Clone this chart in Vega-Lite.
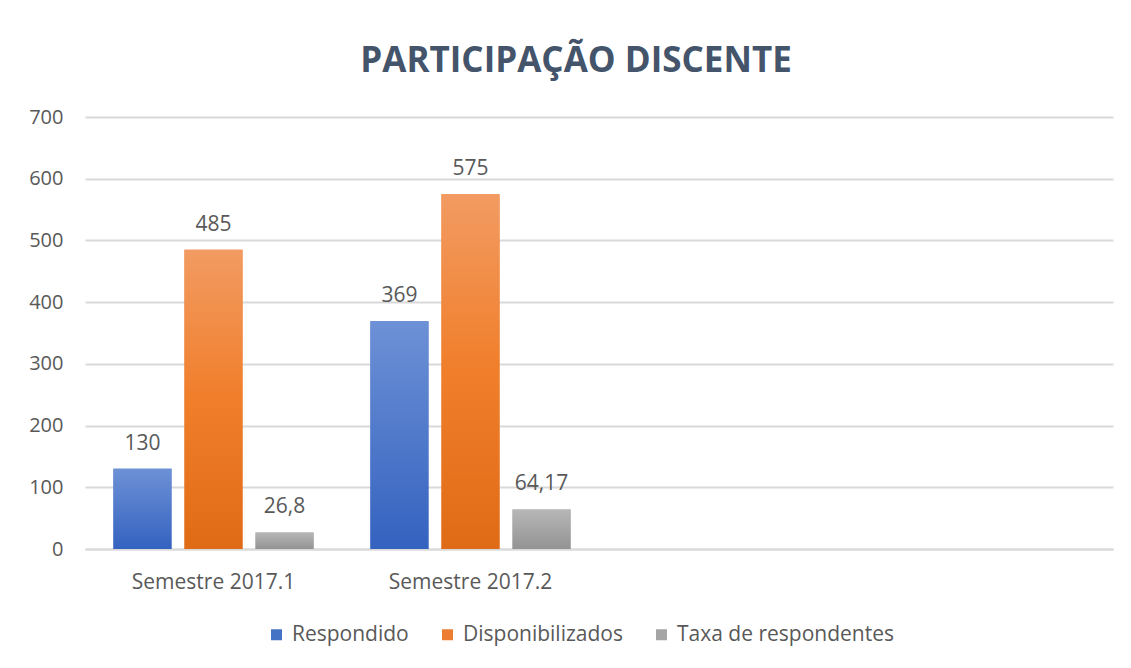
{
  "$schema": "https://vega.github.io/schema/vega-lite/v6.json",
  "width": 1028,
  "height": 432,
  "autosize": {"type": "none"},
  "padding": {"left": 85, "top": 117, "right": 18, "bottom": 119},
  "background": "white",
  "title": {"text": "PARTICIPAÇÃO DISCENTE", "font": "Open Sans", "fontSize": 35, "fontWeight": "bold", "color": "#44546a", "anchor": "middle", "offset": 28, "dx": -23},
  "data": {"values": [
    {"sem": "Semestre 2017.1", "serie": "Respondido", "v": 130, "lab": "130"},
    {"sem": "Semestre 2017.1", "serie": "Disponibilizados", "v": 485, "lab": "485"},
    {"sem": "Semestre 2017.1", "serie": "Taxa de respondentes", "v": 26.8, "lab": "26,8"},
    {"sem": "Semestre 2017.2", "serie": "Respondido", "v": 369, "lab": "369"},
    {"sem": "Semestre 2017.2", "serie": "Disponibilizados", "v": 575, "lab": "575"},
    {"sem": "Semestre 2017.2", "serie": "Taxa de respondentes", "v": 64.17, "lab": "64,17"}
  ]},
  "encoding": {
    "x": {"field": "sem", "type": "nominal", "scale": {"domain": ["Semestre 2017.1", "Semestre 2017.2", " ", "  "], "paddingInner": 0, "paddingOuter": 0},
      "axis": {"title": null, "labelAngle": 0, "labelFont": "Open Sans", "labelFontSize": 21, "labelColor": "#595959", "ticks": false, "domain": true, "domainColor": "#d9d9d9", "domainWidth": 2, "labelPadding": 22}},
    "xOffset": {"field": "serie", "type": "nominal", "scale": {"domain": ["Respondido", "Disponibilizados", "Taxa de respondentes"], "paddingInner": 0.183, "paddingOuter": 0.4}},
    "y": {"field": "v", "type": "quantitative", "scale": {"domain": [0, 700], "nice": false},
      "axis": {"title": null, "values": [0,100,200,300,400,500,600,700], "labelFont": "Open Sans", "labelFontSize": 20, "labelColor": "#595959", "ticks": false, "domain": false, "grid": true, "gridColor": "#d9d9d9", "gridWidth": 2, "labelPadding": 22}}
  },
  "layer": [
    {
      "mark": {"type": "bar"},
      "encoding": {
        "color": {"field": "serie", "type": "nominal", "scale": {"domain": ["Respondido", "Disponibilizados", "Taxa de respondentes"], "range": ["#4472c4", "#ed7d31", "#a5a5a5"]},
          "legend": {"title": null, "orient": "none", "legendX": 181, "legendY": 507, "direction": "horizontal", "symbolType": "square", "symbolSize": 121, "symbolStrokeWidth": 0, "labelFont": "Open Sans", "labelFontSize": 21, "labelColor": "#595959", "columnPadding": 28, "labelOffset": 5, "labelLimit": 0}}
      }
    },
    {
      "transform": [{"filter": "datum.serie == 'Respondido'"}],
      "mark": {"type": "bar", "color": {"gradient": "linear", "x1": 0, "y1": 0, "x2": 0, "y2": 1, "stops": [{"offset": 0, "color": "#6d91d6"}, {"offset": 1, "color": "#3462bf"}]}}
    },
    {
      "transform": [{"filter": "datum.serie == 'Disponibilizados'"}],
      "mark": {"type": "bar", "color": {"gradient": "linear", "x1": 0, "y1": 0, "x2": 0, "y2": 1, "stops": [{"offset": 0, "color": "#f29b62"}, {"offset": 0.5, "color": "#f07e2a"}, {"offset": 1, "color": "#e06b17"}]}}
    },
    {
      "transform": [{"filter": "datum.serie == 'Taxa de respondentes'"}],
      "mark": {"type": "bar", "color": {"gradient": "linear", "x1": 0, "y1": 0, "x2": 0, "y2": 1, "stops": [{"offset": 0, "color": "#b7b7b7"}, {"offset": 1, "color": "#939393"}]}}
    },
    {
      "mark": {"type": "text", "dy": -25, "font": "Open Sans", "fontSize": 21, "color": "#595959"},
      "encoding": {"text": {"field": "lab"}}
    }
  ],
  "config": {"view": {"stroke": null}}
}
